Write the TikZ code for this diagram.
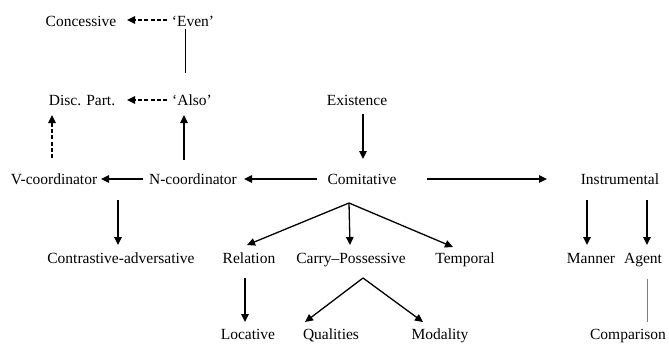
\documentclass[tikz,border=0pt]{standalone}
\usepackage{fontspec}
\setmainfont{Liberation Serif}
\usetikzlibrary{arrows.meta}
\begin{document}
\begin{tikzpicture}[x=1pt,y=-1pt,
  lbl/.style={anchor=base,inner sep=0pt,font=\fontsize{15.5}{18}\selectfont},
  arr/.style={line width=1.3pt,-{Triangle[length=8pt,width=7.5pt]}},
  darr/.style={arr,dash pattern=on 4pt off 2.2pt},
  plain/.style={line width=0.8pt}]
\useasboundingbox (0,0) rectangle (669,343);
% row 1
\node[lbl] (conc) at (81,26) {Concessive};
\node[lbl] (even) at (193,26) {`Even'};
% row 2
\node[lbl] (disc) at (82,105) {Disc. Part.};
\node[lbl] (also) at (192,105) {`Also'};
\node[lbl] (exist) at (357,105) {Existence};
% row 3
\node[lbl] (vcoord) at (54,184) {V-coordinator};
\node[lbl] (ncoord) at (193,184) {N-coordinator};
\node[lbl] (comit) at (362,184) {Comitative};
\node[lbl] (instr) at (620,184) {Instrumental};
% row 4
\node[lbl] (contr) at (121,263) {Contrastive-adversative};
\node[lbl] (rel) at (249,263) {Relation};
\node[lbl] (carry) at (351,263) {Carry--Possessive};
\node[lbl] (temp) at (465,263) {Temporal};
\node[lbl] (manner) at (591,263) {Manner};
\node[lbl] (agent) at (643,263) {Agent};
% row 5
\node[lbl] (loc) at (248,339) {Locative};
\node[lbl] (qual) at (331,339) {Qualities};
\node[lbl] (modal) at (440,339) {Modality};
\node[lbl] (comp) at (628,339) {Comparison};
% connector end points
\coordinate (evenL) at (167,20);   \coordinate (concR) at (127,20);
\coordinate (evenB) at (185,29);   \coordinate (alsoT) at (185,73);
\coordinate (alsoL) at (167,100);  \coordinate (discR) at (127,100);
\coordinate (ncT) at (184,160);    \coordinate (alsoB) at (184,115);
\coordinate (vcT) at (52,158);     \coordinate (discB) at (52,115);
\coordinate (exB) at (363,114);    \coordinate (coT) at (363,159);
\coordinate (ncL) at (143,179);    \coordinate (vcR) at (101,179);
\coordinate (coL) at (317,179);    \coordinate (ncR) at (244,179);
\coordinate (coR) at (427,179);    \coordinate (inL) at (547,179);
\coordinate (vcB) at (118,200);    \coordinate (ctT) at (118,245);
\coordinate (coB) at (349,203);
\coordinate (relT) at (247,245);   \coordinate (carT) at (350,245);
\coordinate (tmpT) at (453,247);
\coordinate (inB1) at (587,200);   \coordinate (manT) at (587,245);
\coordinate (inB2) at (647,200);   \coordinate (agT) at (647,245);
\coordinate (relB) at (245,278);   \coordinate (locT) at (245,322);
\coordinate (carB) at (363,278);
\coordinate (qualT) at (305,322);  \coordinate (modT) at (423,322);
\coordinate (agB) at (647,279);    \coordinate (compT) at (647,322);
% connectors
\draw[darr] (evenL) -- (concR);
\draw[plain] (evenB) -- (alsoT);
\draw[darr] (alsoL) -- (discR);
\draw[arr] (ncT) -- (alsoB);
\draw[darr] (vcT) -- (discB);
\draw[arr] (exB) -- (coT);
\draw[arr] (ncL) -- (vcR);
\draw[arr] (coL) -- (ncR);
\draw[arr] (coR) -- (inL);
\draw[arr] (vcB) -- (ctT);
\draw[arr] (coB) -- (relT);
\draw[arr] (coB) -- (carT);
\draw[arr] (coB) -- (tmpT);
\draw[arr] (inB1) -- (manT);
\draw[arr] (inB2) -- (agT);
\draw[arr] (relB) -- (locT);
\draw[arr] (carB) -- (qualT);
\draw[arr] (carB) -- (modT);
\draw[plain,gray] (agB) -- (compT);
\end{tikzpicture}
\end{document}
